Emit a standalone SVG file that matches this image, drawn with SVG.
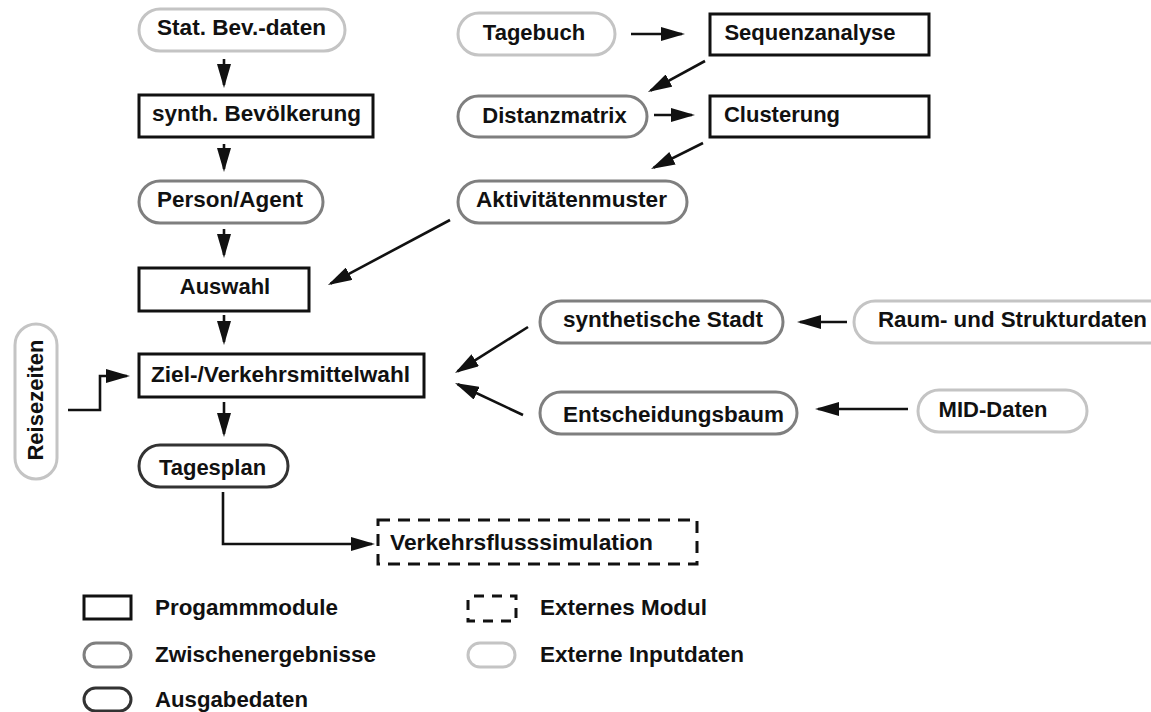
<svg xmlns="http://www.w3.org/2000/svg" width="1151" height="712" viewBox="0 0 1151 712">
<style>
text{font-family:"Liberation Sans",Arial,sans-serif;font-weight:bold;font-size:22px;fill:#111;text-anchor:middle}
.lg{text-anchor:start}
.mod{fill:#fff;stroke:#111;stroke-width:3}
.ext{fill:#fff;stroke:#111;stroke-width:3;stroke-dasharray:12 8}
.inp{fill:#fff;stroke:#c4c4c4;stroke-width:3}
.mid{fill:#fff;stroke:#7f7f7f;stroke-width:3}
.out{fill:#fff;stroke:#333;stroke-width:3}
.c{fill:none;stroke:#111;stroke-width:2.6;marker-end:url(#ah)}
</style>
<defs>
<marker id="ah" viewBox="0 0 24 14" refX="21" refY="7" markerWidth="24" markerHeight="14" markerUnits="userSpaceOnUse" orient="auto">
<path d="M0,0 L24,7 L0,14 z" fill="#111"/>
</marker>
</defs>
<g id="connectors">
<path class="c" d="M224,59 L224,85"/>
<path class="c" d="M224,144 L224,169"/>
<path class="c" d="M224,229 L224,255"/>
<path class="c" d="M224,315 L224,342"/>
<path class="c" d="M224,402 L224,434"/>
<path class="c" d="M223,492 L223,544 L372,544"/>
<path class="c" d="M68,410 L100,410 L100,376 L127,376"/>
<path class="c" d="M631,34 L682,34"/>
<path class="c" d="M705,61 L650.6,90.6"/>
<path class="c" d="M654,115 L692,115"/>
<path class="c" d="M703,143 L653.7,167.7"/>
<path class="c" d="M450,220 L330.6,283.6"/>
<path class="c" d="M528,327 L457.5,371.4"/>
<path class="c" d="M523,415 L457.7,384.3"/>
<path class="c" d="M847,322 L800,322"/>
<path class="c" d="M908,409 L818,409"/>
</g>
<g id="stat"><rect class="inp" x="139" y="9" width="206" height="42" rx="21"/><text x="241.5" y="35" textLength="169" lengthAdjust="spacingAndGlyphs">Stat. Bev.-daten</text></g>
<g id="synth"><rect class="mod" x="139" y="95" width="234" height="42"/><text x="256.5" y="121" textLength="209" lengthAdjust="spacingAndGlyphs">synth. Bevölkerung</text></g>
<g id="person"><rect class="mid" x="139" y="181" width="184" height="42" rx="21"/><text x="230" y="207" textLength="146" lengthAdjust="spacingAndGlyphs">Person/Agent</text></g>
<g id="auswahl"><rect class="mod" x="139" y="268" width="170" height="43"/><text x="225" y="294">Auswahl</text></g>
<g id="ziel"><rect class="mod" x="139" y="354" width="285" height="43"/><text x="280.5" y="382" textLength="259" lengthAdjust="spacingAndGlyphs">Ziel-/Verkehrsmittelwahl</text></g>
<g id="tagesplan"><rect class="out" x="139" y="445" width="149" height="42" rx="21"/><text x="212.5" y="475">Tagesplan</text></g>
<g id="reisezeiten"><rect class="inp" x="15" y="324" width="42" height="155" rx="21"/><text transform="translate(43,400) rotate(-90)" x="0" y="0">Reisezeiten</text></g>
<g id="verkehrsfluss"><rect class="ext" x="378" y="520" width="319" height="44"/><text x="521.5" y="550" textLength="263" lengthAdjust="spacingAndGlyphs">Verkehrsflusssimulation</text></g>
<g id="tagebuch"><rect class="inp" x="458" y="13" width="157" height="42" rx="21"/><text x="534" y="40">Tagebuch</text></g>
<g id="sequenz"><rect class="mod" x="710" y="14" width="219" height="41"/><text x="810" y="40">Sequenzanalyse</text></g>
<g id="distanz"><rect class="mid" x="458" y="96" width="189" height="41" rx="20.5"/><text x="554.5" y="123">Distanzmatrix</text></g>
<g id="cluster"><rect class="mod" x="710" y="96" width="219" height="41"/><text x="782" y="122">Clusterung</text></g>
<g id="aktiv"><rect class="mid" x="458" y="181" width="229" height="42" rx="21"/><text x="571.5" y="207" textLength="191" lengthAdjust="spacingAndGlyphs">Aktivitätenmuster</text></g>
<g id="stadt"><rect class="mid" x="540" y="301" width="243" height="42" rx="21"/><text x="663" y="327" textLength="200" lengthAdjust="spacingAndGlyphs">synthetische Stadt</text></g>
<g id="entsch"><rect class="mid" x="540" y="392" width="257" height="42" rx="21"/><text x="673.5" y="422" textLength="221" lengthAdjust="spacingAndGlyphs">Entscheidungsbaum</text></g>
<g id="raum"><rect class="inp" x="854" y="301" width="320" height="42" rx="21"/><text x="1012.5" y="327" textLength="269" lengthAdjust="spacingAndGlyphs">Raum- und Strukturdaten</text></g>
<g id="mid"><rect class="inp" x="918" y="390" width="169" height="42" rx="21"/><text x="993" y="417">MID-Daten</text></g>
<g id="legend">
<rect class="mod" x="84" y="596" width="47" height="23"/><text class="lg" x="155" y="615" textLength="183" lengthAdjust="spacingAndGlyphs">Progammmodule</text>
<rect class="mid" x="84" y="643" width="47" height="24" rx="12"/><text class="lg" x="155" y="662" textLength="221" lengthAdjust="spacingAndGlyphs">Zwischenergebnisse</text>
<rect class="out" x="84" y="688" width="47" height="23" rx="11.5"/><text class="lg" x="155" y="707" textLength="153" lengthAdjust="spacingAndGlyphs">Ausgabedaten</text>
<rect class="ext" x="468" y="596" width="48" height="25" style="stroke-dasharray:10 8;stroke-dashoffset:-6"/><text class="lg" x="540" y="615" textLength="167" lengthAdjust="spacingAndGlyphs">Externes Modul</text>
<rect class="inp" x="468" y="643" width="47" height="24" rx="12"/><text class="lg" x="540" y="662" textLength="204" lengthAdjust="spacingAndGlyphs">Externe Inputdaten</text>
</g>
</svg>
